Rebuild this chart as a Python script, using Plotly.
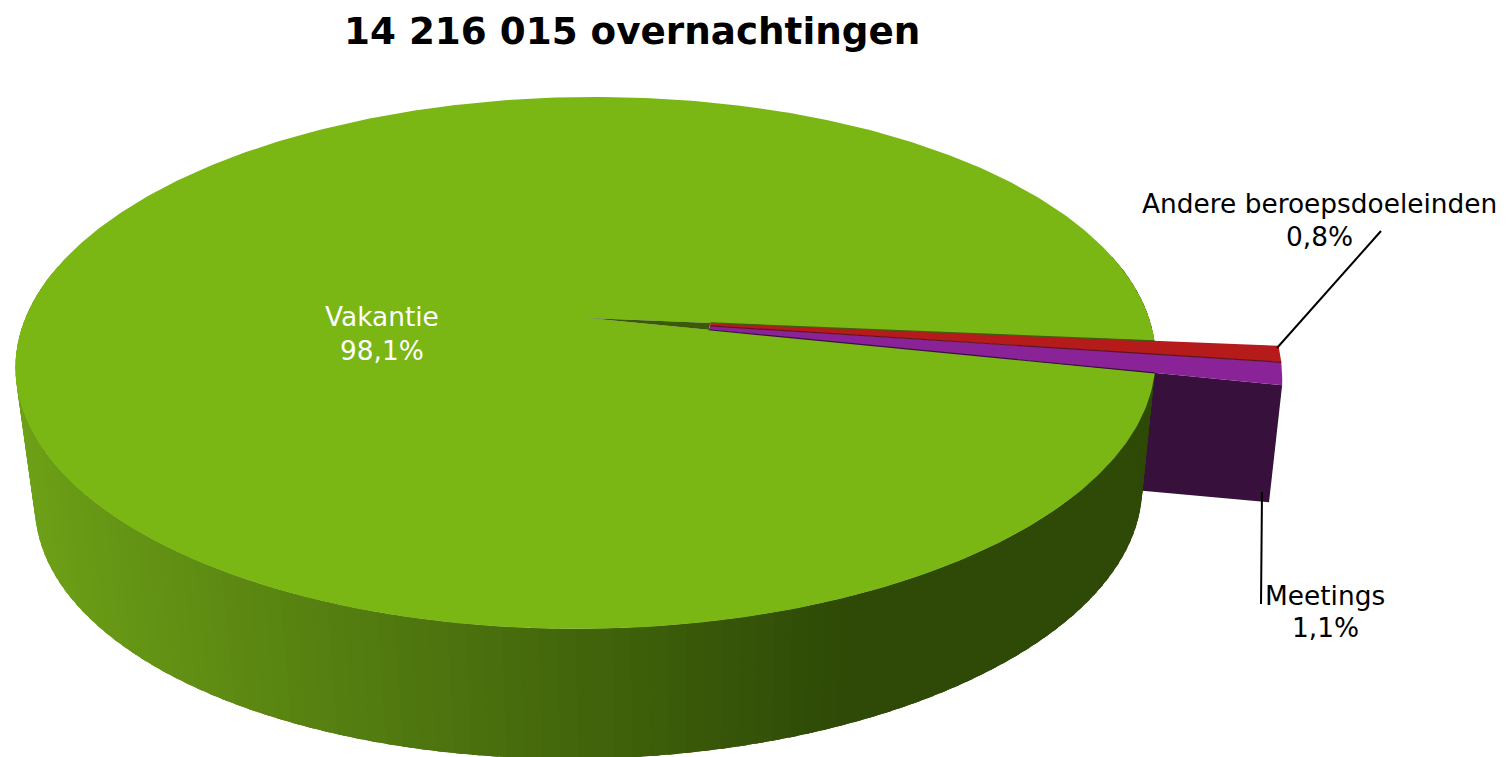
import numpy as np
import plotly.graph_objects as go

# ---- data ----
title_text = "14 216 015 overnachtingen"
categories = ["Vakantie", "Meetings", "Andere beroepsdoeleinden"]
shares = [98.1, 1.1, 0.8]

# ---- style / view ----
W, H = 1506, 757
GREEN, RED, PURPLE = "#7ab614", "#b51b1b", "#8b2398"
WALL_PURPLE, TIP = "#37103c", "#3a5a08"
EDGE_TOP, EDGE_MID = "#3f5f0c", "#5e1420"
FONT = "DejaVu Sans"
START_DEG = 5.0       # clockwise from the +x direction, where the small slices begin
PULL = 0.215          # how far the small slices reach beyond the rim
K = 0.169             # perspective strength
TILT = -0.0376        # slight rotation of the ellipse on the page


def project(r, theta, cx, cy, f, g, yc, shear=0.0):
    x = r * np.cos(theta)
    y = r * np.sin(theta)
    d = 1 - K * y
    py = cy + g * y / d + shear * f * x / d
    px = cx + f * x / d + TILT * (py - yc)
    return px, py


def top(r, theta):
    return project(r, theta, 585.5, 318.0, 561.8, 258.4, 363.0)


def bottom(r, theta):
    return project(r, theta, 588.5, 452.0, 545.5, 255.0, 497.0, -0.008)


def wall_bottom(r, theta):
    return project(r, theta, 592.0, 441.0, 545.5, 256.0, 497.0, -0.008)


fig = go.Figure()


def poly(xs, ys, color):
    fig.add_trace(go.Scatter(
        x=list(xs), y=list(ys), mode="lines", fill="toself", fillcolor=color,
        line=dict(color=color, width=0), hoverinfo="skip", showlegend=False))


def edge(r0, r1, a, color):
    xs, ys = top(np.array([r0, r1]), a)
    fig.add_trace(go.Scatter(x=list(xs), y=list(ys), mode="lines",
                             line=dict(color=color, width=1.2),
                             hoverinfo="skip", showlegend=False))


total = sum(shares)
a_red0 = np.deg2rad(START_DEG)
a_red1 = a_red0 + 2 * np.pi * shares[2] / total
a_pur1 = a_red1 + 2 * np.pi * shares[1] / total

# cut face of the pulled slice
rr = np.array([0.8, 1 + PULL])
tx, ty = top(rr, a_pur1)
bx, by = wall_bottom(rr, a_pur1)
poly(np.r_[tx, bx[::-1]], np.r_[ty, by[::-1]], WALL_PURPLE)

# outer wall of the large slice, shaded strip by strip; each strip reaches
# under the next one so that no seams show
n = 130
angles = np.linspace(np.deg2rad(192), np.deg2rad(-12), n + 1)
L, R = np.array([0x6e, 0xa1, 0x17]), np.array([0x2e, 0x4a, 0x06])
step = angles[1] - angles[0]
for a0 in angles[:-1]:
    pair = np.array([a0, a0 + 2.5 * step])
    x0, y0 = top(1.0, pair)
    x1, y1 = bottom(1.0, pair)
    xm = (x1[0] + x1[1]) / 2
    u = np.clip((xm - 30) / (850 - 30), 0, 1)
    c = L + (R - L) * u
    color = "rgb(%d,%d,%d)" % tuple(c.round().astype(int))
    poly([x0[0], x0[1], x1[1], x1[0]], [y0[0], y0[1], y1[1], y1[0]], color)

# top of the large slice
big = np.linspace(a_pur1, a_red0 + 2 * np.pi, 500)
ex, ey = top(1.0, big)
cx0, cy0 = top(0.0, 0.0)
poly(np.r_[cx0, ex], np.r_[cy0, ey], GREEN)

# notch tip and the two small slices
r_in = 0.22
tipa = np.array([a_red0, a_pur1])
ux, uy = top(r_in, tipa)
poly(np.r_[cx0, ux], np.r_[cy0, uy], TIP)


def wedge(a0, a1, color):
    aa = np.linspace(a0, a1, 12)
    ox, oy = top(1 + PULL, aa)
    ix, iy = top(r_in, aa[::-1])
    poly(np.r_[ox, ix], np.r_[oy, iy], color)


wedge(a_red1, a_pur1, PURPLE)
wedge(a_red0, a_red1, RED)
edge(r_in, 1.0, a_red0, EDGE_TOP)
edge(r_in, 1 + PULL, a_red1, EDGE_MID)
edge(r_in, 1.0, a_pur1, WALL_PURPLE)


def label(i, xc, y1, y2, color):
    pct = f"{shares[i]:.1f}".replace(".", ",") + "%"
    for txt, yy in ((categories[i], y1), (pct, y2)):
        fig.add_annotation(x=xc, y=yy, text=txt, showarrow=False, xanchor="center",
                           yanchor="middle", font=dict(family=FONT, size=26.4, color=color))


label(0, 382, 316, 350, "#ffffff")
label(1, 1325, 595, 627, "#000000")
label(2, 1319, 203, 236, "#000000")

fig.add_annotation(x=632, y=31, text=f"<b>{title_text}</b>", showarrow=False,
                   font=dict(family=FONT, size=37.3, color="#000000"))

leaders = [((1277, 348), (1381, 231)), ((1262, 492), (1261, 604))]
shapes = [dict(type="line", x0=p[0], y0=p[1], x1=q[0], y1=q[1],
               line=dict(color="#000000", width=2)) for p, q in leaders]

fig.update_layout(
    width=W, height=H, margin=dict(l=0, r=0, t=0, b=0),
    paper_bgcolor="#ffffff", plot_bgcolor="#ffffff", shapes=shapes,
    xaxis=dict(range=[0, W], visible=False, fixedrange=True),
    yaxis=dict(range=[H, 0], visible=False, fixedrange=True),
    showlegend=False)

fig.write_html("out.html", post_script="document.body.style.margin='0';",
               config={"displayModeBar": False})
